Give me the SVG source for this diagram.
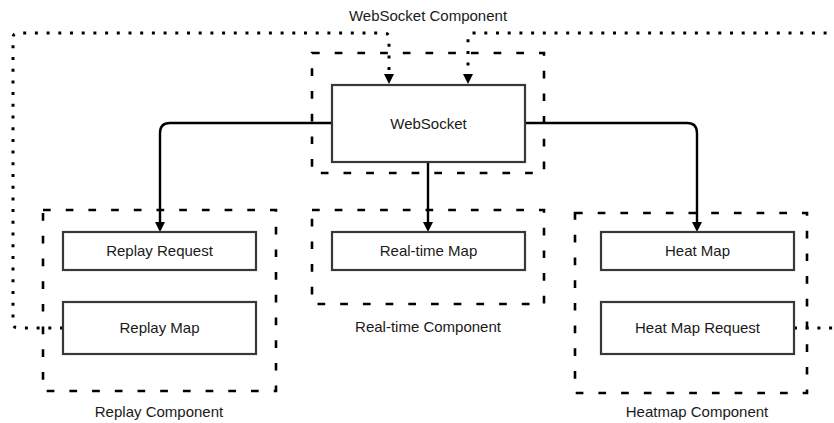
<svg xmlns="http://www.w3.org/2000/svg" width="834" height="423" viewBox="0 0 834 423">
<style>
  .box{fill:#fff;stroke:#383838;stroke-width:2.2}
  .grp{fill:none;stroke:#000;stroke-width:2.6;stroke-dasharray:7.7 15}
  .lbl{font-family:"Liberation Sans",Arial,sans-serif;font-size:15px;fill:#1a1a1a;text-anchor:middle}
  .solid{fill:none;stroke:#000;stroke-width:2.4}
  .dot{fill:none;stroke:#000;stroke-width:3;stroke-dasharray:3 8.7}
</style>
<defs>
  <marker id="arr" markerWidth="10" markerHeight="10" refX="2" refY="5" orient="auto" markerUnits="userSpaceOnUse">
    <path d="M0,0 L10,5 L0,10 z" fill="#000"/>
  </marker>
</defs>
<rect width="834" height="423" fill="#fff"/>

<g id="websocket-component">
  <rect class="grp" x="312" y="53" width="232" height="120"/>
  <text class="lbl" x="428" y="21">WebSocket Component</text>
</g>
<g id="replay-component">
  <rect class="grp" x="43" y="210" width="233" height="181"/>
  <text class="lbl" x="159" y="417">Replay Component</text>
</g>
<g id="realtime-component">
  <rect class="grp" x="312" y="210" width="232" height="94"/>
  <text class="lbl" x="428" y="332">Real-time Component</text>
</g>
<g id="heatmap-component">
  <rect class="grp" x="575" y="213" width="232" height="180"/>
  <text class="lbl" x="697" y="417">Heatmap Component</text>
</g>

<g id="connectors">
  <path class="solid" d="M332,123 H170 Q160,123 160,133 V224" marker-end="url(#arr)"/>
  <path class="solid" d="M525,123 H687 Q697,123 697,133 V224" marker-end="url(#arr)"/>
  <path class="solid" d="M428,162 V224" marker-end="url(#arr)"/>
  <path class="dot" d="M63,328 H18 Q13,328 13,323 V38 Q13,33 18,33 H384 Q389,33 389,38 V76" marker-end="url(#arr)"/>
  <path class="dot" d="M794,328 H850 V33 H473 Q468,33 468,38 V76" marker-end="url(#arr)"/>
</g>

<g id="websocket">
  <rect class="box" x="332" y="85" width="193" height="77"/>
  <text class="lbl" x="428.5" y="128.5">WebSocket</text>
</g>
<g id="replay-request">
  <rect class="box" x="63" y="232" width="193" height="38"/>
  <text class="lbl" x="159.5" y="256">Replay Request</text>
</g>
<g id="replay-map">
  <rect class="box" x="63" y="302" width="193" height="52"/>
  <text class="lbl" x="159.5" y="333">Replay Map</text>
</g>
<g id="realtime-map">
  <rect class="box" x="332" y="232" width="193" height="38"/>
  <text class="lbl" x="428.5" y="256">Real-time Map</text>
</g>
<g id="heat-map">
  <rect class="box" x="601" y="232" width="193" height="38"/>
  <text class="lbl" x="697.5" y="256">Heat Map</text>
</g>
<g id="heat-map-request">
  <rect class="box" x="601" y="302" width="193" height="52"/>
  <text class="lbl" x="697.5" y="333">Heat Map Request</text>
</g>
</svg>
